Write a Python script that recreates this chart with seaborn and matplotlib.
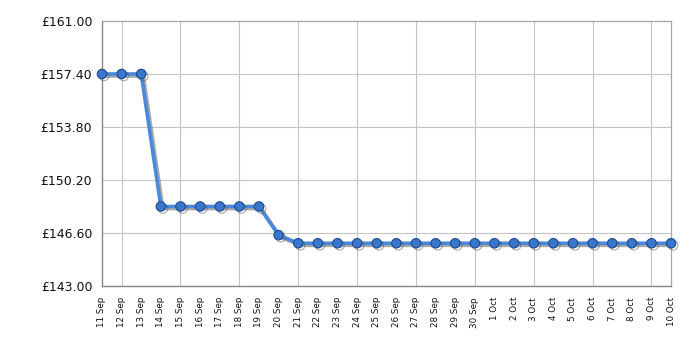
import matplotlib
matplotlib.use("Agg")
import matplotlib.pyplot as plt
import matplotlib.patheffects as pe
import seaborn as sns
import pandas as pd
import numpy as np

dates = ["11 Sep", "12 Sep", "13 Sep", "14 Sep", "15 Sep", "16 Sep", "17 Sep", "18 Sep",
         "19 Sep", "20 Sep", "21 Sep", "22 Sep", "23 Sep", "24 Sep", "25 Sep", "26 Sep",
         "27 Sep", "28 Sep", "29 Sep", "30 Sep", "1 Oct", "2 Oct", "3 Oct", "4 Oct",
         "5 Oct", "6 Oct", "7 Oct", "8 Oct", "9 Oct", "10 Oct"]
prices = [157.40, 157.40, 157.40, 148.40, 148.40, 148.40, 148.40, 148.40,
          148.40, 146.45, 145.90, 145.90, 145.90, 145.90, 145.90, 145.90,
          145.90, 145.90, 145.90, 145.90, 145.90, 145.90, 145.90, 145.90,
          145.90, 145.90, 145.90, 145.90, 145.90, 145.90]
y_ticks = [143.00, 146.60, 150.20, 153.80, 157.40, 161.00]

df = pd.DataFrame({"idx": np.arange(len(dates)), "price": prices})

sns.set_style("white")
fig = plt.figure(figsize=(7, 3.5), dpi=100)
ax = fig.add_axes([0.1457, 0.183, 0.813, 0.757])

sns.lineplot(data=df, x="idx", y="price", ax=ax, color="#4a88dc", linewidth=2.6,
             marker="o", markersize=6.8, markerfacecolor="#3a76cc",
             markeredgecolor="#1d4a8c", markeredgewidth=0.8,
             path_effects=[pe.SimpleLineShadow(offset=(1.5, -1.5), shadow_color="#555555", alpha=0.5),
                           pe.Normal()], zorder=5)

ax.set_xlim(0, len(dates) - 1)
ax.set_ylim(143, 161)
ax.set_yticks(y_ticks)
ax.set_yticklabels([f"£{v:.2f}" for v in y_ticks], fontsize=9, color="#111111")

ax.set_xticks(np.arange(len(dates)))
ax.set_xticklabels(dates, rotation=90, fontsize=6.3, color="#111111")
major = list(range(1, len(dates), 3))
ax.tick_params(axis="x", which="major", length=5, width=0.8, color="#222222", pad=3)
ax.tick_params(axis="y", length=5, width=0.8, color="#222222", pad=2)
for i, t in enumerate(ax.xaxis.get_major_ticks()):
    t.tick1line.set_markersize(5 if i in major else 0)

for v in y_ticks:
    ax.axhline(v, color="#c4c4c4", linewidth=0.8, zorder=0)
for i in major:
    ax.axvline(i, color="#c4c4c4", linewidth=0.8, zorder=0)

for s in ["top", "right"]:
    ax.spines[s].set_color("#a8a8a8")
    ax.spines[s].set_linewidth(0.9)
for s in ["left", "bottom"]:
    ax.spines[s].set_color("#888888")
    ax.spines[s].set_linewidth(1.0)

ax.set_xlabel("")
ax.set_ylabel("")
for line in ax.lines:
    line.set_clip_on(False)

fig.savefig("out.png", dpi=100)
